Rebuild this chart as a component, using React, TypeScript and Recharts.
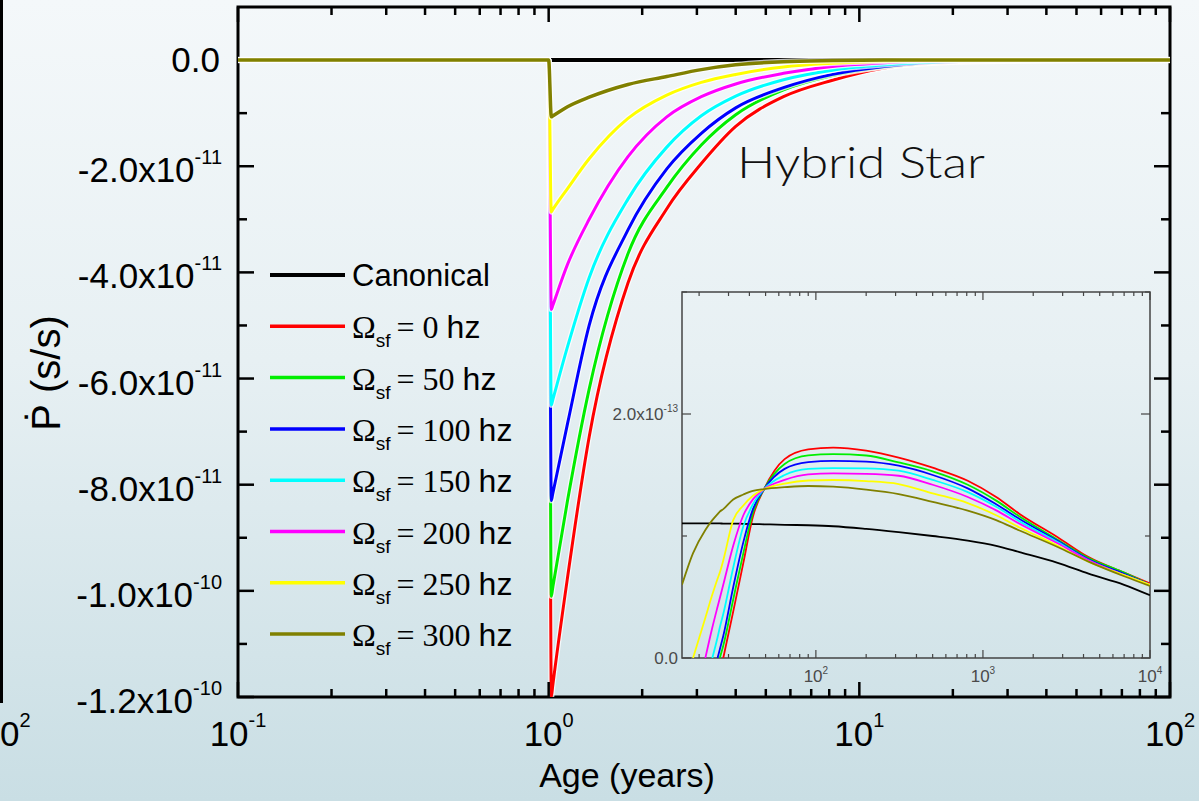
import { Fragment } from 'react';
import { LineChart, Line, XAxis, YAxis, ReferenceArea, Legend } from 'recharts';

const SANS = '"Liberation Sans", Arial, Helvetica, sans-serif';
const SERIF = '"Liberation Serif", "Times New Roman", serif';

// Main panel: Pdot in units of 1e-11 s/s against age in years
const AGES = [0.1, 1, 1.02, 1.03, 1.15, 1.35, 1.8, 2.4, 3.1, 4, 5.7, 8.2, 12, 20, 40, 100];
const CANONICAL = [0, 0, 0, 0, 0, 0, 0, 0, 0, 0, 0, 0, 0, 0, 0, 0];
const HZ_0 = [0, 0, -12.0, -11.8, -9.75, -7.1, -4.2, -2.8, -1.95, -1.25, -0.69, -0.38, -0.15, -0.04, -0.01, 0];
const HZ_50 = [0, 0, -10.1, -9.95, -8.3, -6.2, -3.65, -2.4, -1.6, -1.03, -0.56, -0.29, -0.13, -0.03, -0.01, 0];
const HZ_100 = [0, 0, -8.3, -8.18, -6.85, -5.0, -3.2, -2.05, -1.38, -0.9, -0.52, -0.27, -0.12, -0.03, -0.01, 0];
const HZ_150 = [0, 0, -6.5, -6.41, -5.4, -4.1, -2.62, -1.64, -1.05, -0.68, -0.37, -0.19, -0.09, -0.02, 0, 0];
const HZ_200 = [0, 0, -4.7, -4.63, -3.85, -3.0, -1.82, -1.07, -0.69, -0.45, -0.25, -0.12, -0.05, -0.01, 0, 0];
const HZ_250 = [0, 0, -2.86, -2.82, -2.42, -1.86, -1.1, -0.66, -0.42, -0.27, -0.13, -0.06, -0.02, 0, 0, 0];
const HZ_300 = [0, 0, -1.07, -1.055, -0.88, -0.7, -0.46, -0.31, -0.18, -0.09, -0.03, -0.01, 0, 0, 0, 0];

// Inset: late-time Pdot in units of 1e-13 s/s (null before a curve enters the frame)
const INSET_AGES = [15.8, 18.4, 21.8, 24, 25.8, 26.6, 27.9, 32, 36.8, 42, 49, 65, 90, 127, 200, 313, 500, 811, 1200, 1656, 2800, 4285, 7000, 10000];
const IN_CANONICAL = [1.104, 1.104, 1.103, 1.103, 1.103, 1.103, 1.102, 1.102, 1.1, 1.098, 1.096, 1.092, 1.088, 1.08, 1.058, 1.031, 1.0, 0.963, 0.92, 0.868, 0.78, 0.691, 0.6, 0.514];
const IN_HZ_0 = [null, null, null, null, null, null, 0, 0.38, 0.78, 1.16, 1.385, 1.63, 1.71, 1.725, 1.7, 1.643, 1.56, 1.453, 1.32, 1.181, 0.99, 0.827, 0.7, 0.61];
const IN_HZ_50 = [null, null, null, null, null, 0, 0.1, 0.48, 0.86, 1.19, 1.385, 1.59, 1.66, 1.671, 1.66, 1.603, 1.53, 1.42, 1.29, 1.16, 0.97, 0.82, 0.7, 0.6];
const IN_HZ_100 = [null, null, null, null, 0, 0.07, 0.18, 0.58, 0.95, 1.22, 1.385, 1.55, 1.605, 1.616, 1.61, 1.576, 1.5, 1.39, 1.26, 1.14, 0.96, 0.81, 0.69, 0.6];
const IN_HZ_150 = [null, null, null, 0, 0.17, 0.25, 0.36, 0.74, 1.08, 1.26, 1.385, 1.5, 1.55, 1.557, 1.555, 1.535, 1.46, 1.36, 1.24, 1.12, 0.95, 0.8, 0.68, 0.6];
const IN_HZ_200 = [null, null, 0, 0.25, 0.42, 0.49, 0.6, 0.92, 1.17, 1.3, 1.385, 1.46, 1.505, 1.513, 1.51, 1.494, 1.42, 1.32, 1.21, 1.1, 0.94, 0.8, 0.68, 0.6];
const IN_HZ_250 = [null, 0, 0.33, 0.52, 0.65, 0.7, 0.8, 1.13, 1.25, 1.33, 1.385, 1.43, 1.455, 1.459, 1.45, 1.426, 1.35, 1.27, 1.17, 1.07, 0.92, 0.79, 0.68, 0.6];
const IN_HZ_300 = [0.6, 0.86, 1.05, 1.13, 1.18, 1.2, 1.22, 1.3, 1.34, 1.37, 1.385, 1.4, 1.41, 1.404, 1.38, 1.344, 1.28, 1.208, 1.13, 1.045, 0.91, 0.79, 0.67, 0.59];

const SERIES = [
  { key: 'canonical', hz: null, color: '#000000', width: 4, main: CANONICAL, inset: IN_CANONICAL },
  { key: 'hz0', hz: 0, color: '#ff0000', width: 3, main: HZ_0, inset: IN_HZ_0 },
  { key: 'hz50', hz: 50, color: '#00ee00', width: 3, main: HZ_50, inset: IN_HZ_50 },
  { key: 'hz100', hz: 100, color: '#0000ff', width: 3, main: HZ_100, inset: IN_HZ_100 },
  { key: 'hz150', hz: 150, color: '#00ffff', width: 3, main: HZ_150, inset: IN_HZ_150 },
  { key: 'hz200', hz: 200, color: '#ff00ff', width: 3, main: HZ_200, inset: IN_HZ_200 },
  { key: 'hz250', hz: 250, color: '#ffff00', width: 3, main: HZ_250, inset: IN_HZ_250 },
  { key: 'hz300', hz: 300, color: '#808000', width: 3.5, main: HZ_300, inset: IN_HZ_300 },
];

const logTicks = (from: number, to: number) => {
  const out: number[] = [];
  for (let e = from; e < to; e++) for (let k = 1; k < 10; k++) out.push(k * 10 ** e);
  out.push(10 ** to);
  return out;
};

const MAIN_X_TICKS = logTicks(-1, 2);
const MAIN_Y_TICKS = [-12, -11, -10, -9, -8, -7, -6, -5, -4, -3, -2, -1, 0];
const INSET_X_TICKS = logTicks(1, 4).filter((v) => v >= 20);
const INSET_Y_TICKS = [0, 1, 2, 3];

const mainRows = AGES.map((age, i) => {
  const row: Record<string, number> = { age };
  SERIES.forEach((s) => { row[s.key] = s.main[i]; });
  return row;
});

const insetRows = INSET_AGES.map((age, i) => {
  const row: Record<string, number | null> = { age };
  SERIES.forEach((s) => { row[s.key] = s.inset[i]; });
  return row;
});

// main plot frame (chart pixels)
const PLOT_TOP = 7;
const PLOT_RIGHT = 1170;
// inset plot frame (inset chart pixels)
const IN_TOP = 12;
const IN_RIGHT = 550;

const isDecade = (v: number) => Math.abs(Math.log10(v) - Math.round(Math.log10(v))) < 1e-6;

function MainXTick({ x, y, payload }: any) {
  const v = payload.value;
  const major = isDecade(v);
  const len = major ? 15 : 8;
  return (
    <g>
      <line x1={x} x2={x} y1={y} y2={y - len} stroke="#000" strokeWidth={2.5} />
      <line x1={x} x2={x} y1={PLOT_TOP} y2={PLOT_TOP + len} stroke="#000" strokeWidth={2.5} />
      {major && (
        <text x={x} y={y + 49} textAnchor="middle" fontFamily={SANS} fontSize={35} fill="#000">
          10<tspan dy={-19} fontSize={20}>{Math.round(Math.log10(v))}</tspan>
        </text>
      )}
    </g>
  );
}

function MainYTick({ x, y, payload }: any) {
  const v = payload.value;
  const major = v % 2 === 0;
  const len = major ? 16 : 9;
  let label = null;
  if (major) {
    if (v === 0) {
      label = (
        <text x={x - 18} y={y + 12} textAnchor="end" fontFamily={SANS} fontSize={35} fill="#000">0.0</text>
      );
    } else {
      const big = Math.abs(v) >= 10;
      const mant = (big ? v / 10 : v).toFixed(1);
      label = (
        <text x={x - 16} y={y + 16} textAnchor="end" fontFamily={SANS} fontSize={35} fill="#000">
          {`${mant}x10`}<tspan dy={-18} fontSize={20}>{big ? '-10' : '-11'}</tspan>
        </text>
      );
    }
  }
  // the zero tick sits under the flat curves, so it is left out
  return (
    <g>
      {v !== 0 && <line x1={x} x2={x + len} y1={y} y2={y} stroke="#000" strokeWidth={2.5} />}
      {v !== 0 && <line x1={PLOT_RIGHT} x2={PLOT_RIGHT - len} y1={y} y2={y} stroke="#000" strokeWidth={2.5} />}
      {label}
    </g>
  );
}

function InsetXTick({ x, y, payload }: any) {
  const v = payload.value;
  const major = isDecade(v);
  const len = major ? 8 : 4;
  return (
    <g>
      <line x1={x} x2={x} y1={y} y2={y - len} stroke="#444" strokeWidth={1.2} />
      <line x1={x} x2={x} y1={IN_TOP} y2={IN_TOP + len} stroke="#444" strokeWidth={1.2} />
      {major && (
        <text x={x} y={y + 24} textAnchor="middle" fontFamily={SANS} fontSize={17} fill="#4a4a4a">
          10<tspan dy={-8} fontSize={10}>{Math.round(Math.log10(v))}</tspan>
        </text>
      )}
    </g>
  );
}

function InsetYTick({ x, y, payload }: any) {
  const v = payload.value;
  const major = v % 2 === 0;
  const len = major ? 9 : 5;
  let label = null;
  if (v === 0) {
    label = <text x={x - 4} y={y + 6} textAnchor="end" fontFamily={SANS} fontSize={17} fill="#4a4a4a">0.0</text>;
  } else if (v === 2) {
    label = (
      <text x={x - 4} y={y + 6} textAnchor="end" fontFamily={SANS} fontSize={17} fill="#4a4a4a">
        2.0x10<tspan dy={-8} fontSize={10}>-13</tspan>
      </text>
    );
  }
  return (
    <g>
      <line x1={x} x2={x + len} y1={y} y2={y} stroke="#444" strokeWidth={1.2} />
      <line x1={IN_RIGHT} x2={IN_RIGHT - len} y1={y} y2={y} stroke="#444" strokeWidth={1.2} />
      {label}
    </g>
  );
}

function XTitle({ viewBox }: any) {
  return (
    <text x={viewBox.x + 389} y={viewBox.y + 90} textAnchor="middle" fontFamily={SANS} fontSize={34} fill="#000">
      Age (years)
    </text>
  );
}

function YTitle({ viewBox }: any) {
  const cx = viewBox.x - 118;
  const cy = viewBox.y + 366;
  return (
    <text x={cx} y={cy} transform={`rotate(-90 ${cx} ${cy})`} textAnchor="middle" fontFamily={SANS} fontSize={40} fill="#000">
      Ṗ (s/s)
    </text>
  );
}

// legend rows follow the series order rather than the legend's sorted payload
function LegendBlock() {
  return (
    <svg width={290} height={420} style={{ overflow: 'visible' }}>
      {SERIES.map((s, i) => {
        const cy = 25 + i * 51.3;
        return (
          <g key={s.key}>
            <line x1={20} x2={95} y1={cy} y2={cy} stroke={s.color} strokeWidth={s.hz === null ? 4 : 3.5} />
            {s.hz === null ? (
              <text x={102} y={cy + 11} fontFamily={SANS} fontSize={31} fill="#000">Canonical</text>
            ) : (
              <text x={102} y={cy + 12} fontFamily={SERIF} fontSize={32} fill="#000">
                Ω<tspan fontFamily={SANS} fontSize={19} dy={9}>sf</tspan>
                <tspan dy={-9} dx={6}>{`= ${s.hz} `}</tspan>
                <tspan fontFamily={SANS}>hz</tspan>
              </text>
            )}
          </g>
        );
      })}
    </svg>
  );
}

export default function App() {
  return (
    <div
      style={{
        position: 'absolute',
        left: 0,
        top: 0,
        width: 1199,
        height: 801,
        overflow: 'hidden',
        background: 'linear-gradient(180deg, #f4f8fa 0%, #e7f0f3 45%, #c9dee4 100%)',
      }}
    >
      <LineChart width={1199} height={801} data={mainRows} margin={{ top: 7, right: 29, bottom: 64, left: 178 }}>
        <XAxis
          dataKey="age"
          type="number"
          scale="log"
          domain={[0.1, 100]}
          allowDataOverflow
          ticks={MAIN_X_TICKS}
          interval={0}
          tick={<MainXTick />}
          tickLine={false}
          axisLine={false}
          tickSize={0}
          tickMargin={0}
          height={40}
          label={<XTitle />}
        />
        <YAxis
          type="number"
          domain={[-12, 1]}
          allowDataOverflow
          ticks={MAIN_Y_TICKS}
          interval={0}
          tick={<MainYTick />}
          tickLine={false}
          axisLine={false}
          tickSize={0}
          tickMargin={0}
          width={60}
          label={<YTitle />}
        />
        <ReferenceArea x1={0.1} x2={100} y1={-12} y2={1} fill="none" stroke="#000" strokeWidth={3} ifOverflow="visible" />
        {SERIES.map((s) => (
          <Fragment key={s.key}>
            {/* pale outline under each curve */}
            <Line
              dataKey={s.key}
              type="monotone"
              stroke="#ffffff"
              strokeOpacity={0.75}
              strokeWidth={s.width + 2.5}
              dot={false}
              activeDot={false}
              legendType="none"
              isAnimationActive={false}
            />
            <Line
              dataKey={s.key}
              type="monotone"
              stroke={s.color}
              strokeWidth={s.width}
              dot={false}
              activeDot={false}
              isAnimationActive={false}
            />
          </Fragment>
        ))}
        <Legend
          layout="horizontal"
          verticalAlign="middle"
          align="center"
          wrapperStyle={{ left: 250, top: 250, width: 290, height: 420 }}
          content={<LegendBlock />}
        />
      </LineChart>

      <div style={{ position: 'absolute', left: 600, top: 280 }}>
        <LineChart width={580} height={410} data={insetRows} margin={{ top: 12, right: 30, bottom: 8, left: 10 }}>
          <XAxis
            dataKey="age"
            type="number"
            scale="log"
            domain={[15.8, 10000]}
            allowDataOverflow
            ticks={INSET_X_TICKS}
            interval={0}
            tick={<InsetXTick />}
            tickLine={false}
            axisLine={false}
            tickSize={0}
            tickMargin={0}
            height={24}
          />
          <YAxis
            type="number"
            domain={[0, 3]}
            allowDataOverflow
            ticks={INSET_Y_TICKS}
            interval={0}
            tick={<InsetYTick />}
            tickLine={false}
            axisLine={false}
            tickSize={0}
            tickMargin={0}
            width={72}
          />
          <ReferenceArea x1={15.8} x2={10000} y1={0} y2={3} fill="none" stroke="#444" strokeWidth={1.5} ifOverflow="visible" />
          {SERIES.map((s) => (
            <Line
              key={s.key}
              dataKey={s.key}
              type="monotone"
              stroke={s.color}
              strokeWidth={1.8}
              dot={false}
              activeDot={false}
              connectNulls={false}
              isAnimationActive={false}
            />
          ))}
        </LineChart>
      </div>

      <svg width={1199} height={801} style={{ position: 'absolute', left: 0, top: 0, pointerEvents: 'none' }}>
        {/* edge of the neighbouring panel */}
        <line x1={1.5} x2={1.5} y1={0} y2={703} stroke="#000" strokeWidth={3} />
        <text x={-19.5} y={746} fontFamily={SANS} fontSize={35} fill="#000">
          10<tspan dy={-19} fontSize={20}>2</tspan>
        </text>
        <text
          x={737}
          y={178}
          fontFamily="Lato, 'Open Sans', sans-serif"
          fontWeight={300}
          fontSize={43}
          fill="#111"
          textLength={248}
          lengthAdjust="spacingAndGlyphs"
        >
          Hybrid Star
        </text>
      </svg>
    </div>
  );
}
